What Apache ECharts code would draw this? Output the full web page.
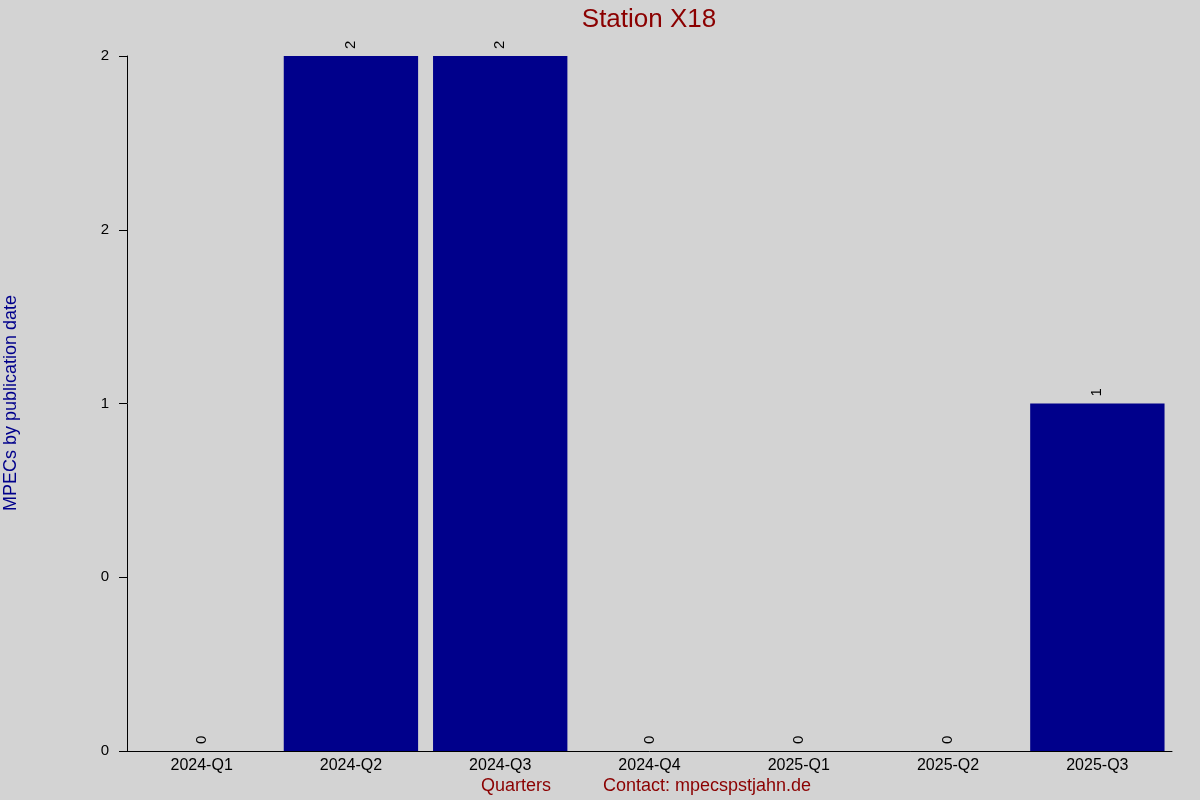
<!DOCTYPE html>
<html>
<head>
<meta charset="utf-8">
<script src="https://cdn.jsdelivr.net/npm/echarts@6/dist/echarts.min.js"></script>
<style>html,body{margin:0;padding:0;background:#D3D3D3;}#c{width:1200px;height:800px;}</style>
</head>
<body>
<div id="c"></div>
<script>
const categories = ['2024-Q1','2024-Q2','2024-Q3','2024-Q4','2025-Q1','2025-Q2','2025-Q3'];
const values = [0, 2, 2, 0, 0, 0, 1];
const yTickValues = [0, 0.5, 1, 1.5, 2];
const yTickLabels = ['0', '0', '1', '2', '2'];

const FONT = '"Liberation Sans", Arial, sans-serif';
const chart = echarts.init(document.getElementById('c'));
chart.setOption({
  backgroundColor: '#D3D3D3',
  animation: false,
  textStyle: { fontFamily: FONT },
  title: {
    text: 'Station X18',
    left: 644, top: 2, textAlign: 'center',
    textStyle: { color: '#8B0000', fontSize: 26, fontWeight: 'normal', fontFamily: FONT }
  },
  grid: { left: 127, right: 28, top: 56, bottom: 49, containLabel: false },
  xAxis: {
    type: 'category',
    data: categories,
    axisLine: { lineStyle: { color: '#000', width: 1 } },
    axisTick: { show: false },
    axisLabel: { color: '#000', fontSize: 16, margin: 7, fontFamily: FONT },
    splitLine: { show: false }
  },
  yAxis: {
    type: 'value',
    min: 0, max: 2, interval: 0.5,
    axisLine: { show: true, lineStyle: { color: '#000', width: 1 } },
    axisTick: { show: true, length: 8, lineStyle: { color: '#000' } },
    axisLabel: {
      color: '#000', fontSize: 15, margin: 18, fontFamily: FONT,
      formatter: v => { const i = yTickValues.indexOf(v); return i >= 0 ? yTickLabels[i] : ''; }
    },
    splitLine: { show: false }
  },
  graphic: [
    { type: 'text', left: 481, top: 777,
      style: { text: 'Quarters', fill: '#8B0000', font: '18px ' + FONT } },
    { type: 'text', left: 603, top: 777,
      style: { text: 'Contact: mpecspstjahn.de', fill: '#8B0000', font: '18px ' + FONT } },
    { type: 'text', x: 2, y: 403, rotation: Math.PI / 2,
      style: { text: 'MPECs by publication date', fill: '#00008B', font: '18px ' + FONT,
               align: 'center', verticalAlign: 'top' } }
  ],
  series: [{
    type: 'bar',
    data: values,
    barWidth: '90%',
    itemStyle: { color: '#00008B' },
    label: {
      show: true, position: 'top', rotate: 90, distance: 7,
      color: '#000', fontSize: 15, fontFamily: FONT,
      align: 'left', verticalAlign: 'middle'
    }
  }]
});
</script>
</body>
</html>
